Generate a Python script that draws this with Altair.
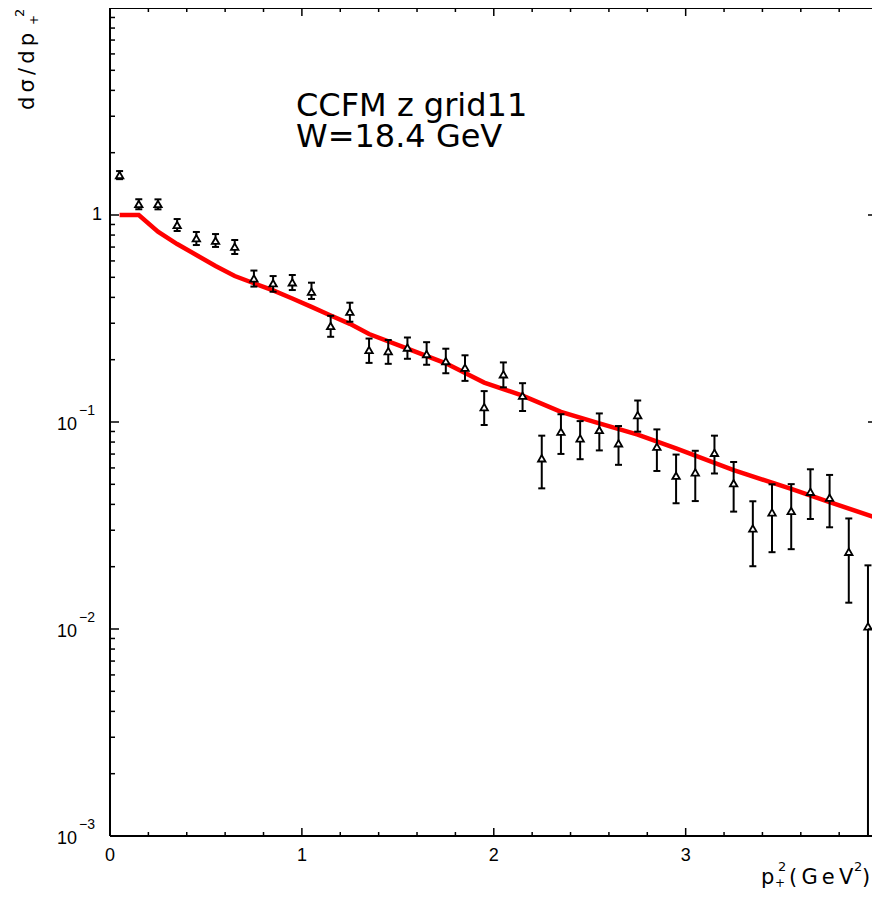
import altair as alt
import pandas as pd

# ---------------- data ----------------
p_bins = [0.05, 0.15, 0.25, 0.35, 0.45, 0.55, 0.65, 0.75, 0.85, 0.95,
          1.05, 1.15, 1.25, 1.35, 1.45, 1.55, 1.65, 1.75, 1.85, 1.95,
          2.05, 2.15, 2.25, 2.35, 2.45, 2.55, 2.65, 2.75, 2.85, 2.95,
          3.05, 3.15, 3.25, 3.35, 3.45, 3.55, 3.65, 3.75, 3.85, 3.95]
sigma = [1.56, 1.13, 1.13, 0.895, 0.772, 0.751, 0.703, 0.494, 0.468, 0.473,
         0.426, 0.291, 0.341, 0.223, 0.220, 0.229, 0.213, 0.197, 0.183, 0.118,
         0.170, 0.134, 0.0668, 0.0898, 0.0834, 0.0915, 0.0789, 0.108, 0.0760, 0.0550,
         0.0571, 0.0710, 0.0506, 0.0306, 0.0366, 0.0372, 0.0460, 0.0431, 0.0236, 0.0103]
sig_hi = [1.63, 1.19, 1.19, 0.956, 0.828, 0.809, 0.757, 0.539, 0.507, 0.513,
          0.471, 0.326, 0.377, 0.253, 0.249, 0.256, 0.243, 0.226, 0.210, 0.141,
          0.194, 0.154, 0.0859, 0.109, 0.101, 0.110, 0.0956, 0.127, 0.0921, 0.0696,
          0.0726, 0.0859, 0.0641, 0.0414, 0.0500, 0.0501, 0.0591, 0.0555, 0.0342, 0.0203]
sig_lo = [1.49, 1.065, 1.065, 0.837, 0.716, 0.701, 0.648, 0.451, 0.426, 0.434,
          0.393, 0.258, 0.305, 0.193, 0.191, 0.202, 0.189, 0.172, 0.158, 0.0967,
          0.147, 0.113, 0.0478, 0.0701, 0.0661, 0.0729, 0.0621, 0.0898, 0.0580, 0.0405,
          0.0415, 0.0564, 0.0369, 0.0201, 0.0235, 0.0243, 0.0340, 0.0310, 0.0134, 0.001]

line_p = [0.05, 0.15, 0.25, 0.35, 0.45, 0.55, 0.65, 0.75, 0.85, 0.95,
          1.05, 1.15, 1.25, 1.35, 1.55, 1.75, 1.95, 2.15, 2.35, 2.55,
          2.75, 2.95, 3.25, 3.55, 3.75, 3.98]
line_v = [1.0, 1.0, 0.830, 0.724, 0.641, 0.567, 0.507, 0.468, 0.432, 0.395,
          0.360, 0.327, 0.298, 0.266, 0.226, 0.192, 0.155, 0.134, 0.112, 0.0985,
          0.0870, 0.0745, 0.0585, 0.0475, 0.0410, 0.0348]

y_major = [0.001, 0.01, 0.1, 1.0, 10.0]
y_minor = [0.002, 0.003, 0.004, 0.005, 0.006, 0.007, 0.008, 0.009,
           0.02, 0.03, 0.04, 0.05, 0.06, 0.07, 0.08, 0.09,
           0.2, 0.3, 0.4, 0.5, 0.6, 0.7, 0.8, 0.9,
           2, 3, 4, 5, 6, 7, 8, 9]
x_major = [0, 1, 2, 3]
x_minor = [0.2, 0.4, 0.6, 0.8, 1.2, 1.4, 1.6, 1.8, 2.2, 2.4, 2.6, 2.8,
           3.2, 3.4, 3.6, 3.8]
x_tick_labels = ["0", "1", "2", "3"]

y_one_label = ["1"]
y_one_value = [1.0]
y_pow_values = [0.1, 0.01, 0.001]
y_pow_exp = ["\u22121", "\u22122", "\u22123"]

title_lines = ["CCFM z grid11", "W=18.4 GeV"]
ytitle_main = "d\u2009\u03c3\u2009/\u2009d\u2009p"
xtitle_parts = ["p", "+", "2", "(\u2009G\u2009e\u2009V", "2", ")"]

# ---------------- layout ----------------
W, H = 762, 828
XMAX = 3.971
FONT = "Liberation Sans"
TFONT = "DejaVu Sans"

xs = alt.Scale(domain=[0, XMAX], nice=False, zero=False)
ys = alt.Scale(type="log", domain=[0.001, 10], nice=False)


def X(f):
    return alt.X(f"{f}:Q", scale=xs, axis=None)


def Y(f):
    return alt.Y(f"{f}:Q", scale=ys, axis=None)


pts = pd.DataFrame({"p": p_bins, "s": sigma, "hi": sig_hi, "lo": sig_lo})
th = pd.DataFrame({"p": line_p, "s": line_v})

# frame lines (left, bottom, top)
frame = pd.DataFrame({"a": [0]})
frame_left = alt.Chart(frame).mark_rule(color="black", strokeWidth=2).encode(
    x=alt.value(0), y=alt.value(0), y2=alt.value(H))
frame_bottom = alt.Chart(frame).mark_rule(color="black", strokeWidth=2.2).encode(
    x=alt.value(0), x2=alt.value(W), y=alt.value(H))
frame_top = alt.Chart(frame).mark_rule(color="black", strokeWidth=2).encode(
    x=alt.value(0), x2=alt.value(W), y=alt.value(0))

theory = alt.Chart(th).mark_line(color="#ff0000", strokeWidth=4.5, clip=True).encode(
    x=X("p"), y=Y("s"))

bars = alt.Chart(pts).mark_rule(color="black", strokeWidth=2, clip=True).encode(
    x=X("p"), y=Y("lo"), y2="hi:Q")

cap_hi = alt.Chart(pts).mark_tick(color="black", orient="horizontal", size=7,
                                  thickness=2, opacity=1).encode(x=X("p"), y=Y("hi"))
cap_lo = alt.Chart(pts).transform_filter("datum.lo > 0.0011").mark_tick(
    color="black", orient="horizontal", size=7, thickness=2, opacity=1).encode(
    x=X("p"), y=Y("lo"))

marks = alt.Chart(pts).mark_point(shape="triangle-up", filled=True, fill="white",
                                  stroke="black", strokeWidth=1.8, size=55,
                                  opacity=1, fillOpacity=1).encode(x=X("p"), y=Y("s"))

# ticks (inside the frame)
ymaj = pd.DataFrame({"v": y_major})
ymin = pd.DataFrame({"v": y_minor})
xmaj = pd.DataFrame({"v": x_major, "t": x_tick_labels})
xmin = pd.DataFrame({"v": x_minor})


def yticks(df, x0, x1):
    return alt.Chart(df).mark_rule(color="black", strokeWidth=1.5).encode(
        y=Y("v"), x=alt.value(x0), x2=alt.value(x1))


def xticks(df, y0, y1):
    return alt.Chart(df).mark_rule(color="black", strokeWidth=1.5).encode(
        x=X("v"), y=alt.value(y0), y2=alt.value(y1))


ticks = [
    yticks(ymaj, 0, 9), yticks(ymin, 0, 5), yticks(ymaj, W - 4, W),
    xticks(xmaj, H, H - 8), xticks(xmin, H, H - 4),
    xticks(xmaj, 0, 8), xticks(xmin, 0, 4),
]

# tick labels
x_lab = alt.Chart(xmaj).mark_text(
    align="center", baseline="top", font=FONT, fontSize=18, color="black").encode(
    x=X("v"), y=alt.value(H + 11), text="t:N")
one_lab = alt.Chart(pd.DataFrame({"v": y_one_value, "t": y_one_label})).mark_text(
    align="right", baseline="middle", font=FONT, fontSize=18, color="black").encode(
    x=alt.value(-8), y=Y("v"), text="t:N")
pow_df = pd.DataFrame({"v": y_pow_values, "e": y_pow_exp})
pow_base = alt.Chart(pow_df).mark_text(
    align="right", baseline="alphabetic", font=FONT, fontSize=18, color="black",
    dy=8).encode(x=alt.value(-33), y=Y("v"), text=alt.value("10"))
pow_exp = alt.Chart(pow_df).mark_text(
    align="left", baseline="alphabetic", font=FONT, fontSize=14, color="black",
    dy=-7).encode(x=alt.value(-31), y=Y("v"), text="e:N")


def txt(s, x, y, size, font=TFONT, angle=0, align="left"):
    kw = dict(align=align, baseline="alphabetic", font=font, fontSize=size,
              color="black")
    if angle:
        kw["angle"] = angle
    return alt.Chart(pd.DataFrame({"t": [s]})).mark_text(**kw).encode(
        x=alt.value(x), y=alt.value(y), text="t:N")


texts = [
    txt(title_lines[0], 186, 108, 32),
    txt(title_lines[1], 186, 139, 32),
    txt(ytitle_main, -76, 102, 21, angle=270),
    txt("+", -72, 17, 12, angle=270),
    txt("2", -86, 9, 13, angle=270),
    txt(xtitle_parts[0], 651, 876, 21),
    txt(xtitle_parts[1], 665, 879, 12),
    txt(xtitle_parts[2], 668, 863, 13),
    txt(xtitle_parts[3], 679, 876, 21),
    txt(xtitle_parts[4], 744, 863, 13),
    txt(xtitle_parts[5], 752, 876, 21),
]

chart = alt.layer(
    theory, bars, cap_hi, cap_lo, marks, *ticks, frame_left, frame_bottom, frame_top,
    x_lab, one_lab, pow_base, pow_exp, *texts,
).properties(
    width=W, height=H,
    autosize=alt.AutoSizeParams(type="none"),
    padding={"left": 102, "top": 0, "right": 0, "bottom": 55},
    background="white",
).configure_view(strokeWidth=0)

chart.save("out.html", embed_options={"renderer": "svg", "actions": False})
